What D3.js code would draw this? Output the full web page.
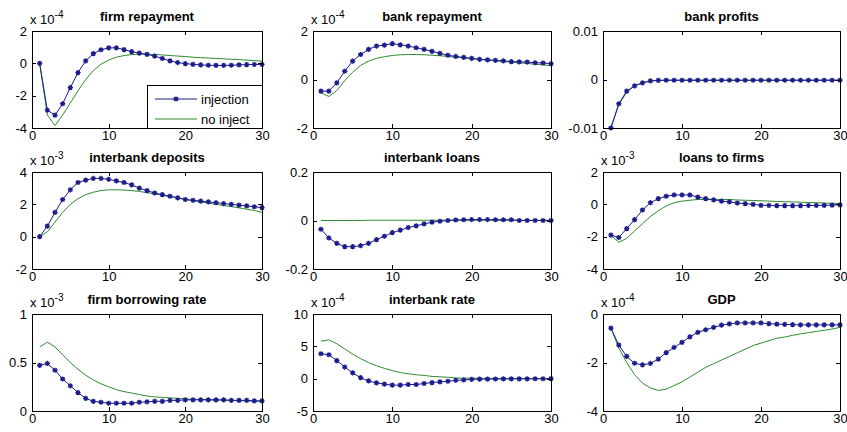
<!DOCTYPE html>
<html><head><meta charset="utf-8">
<script src="https://cdn.jsdelivr.net/npm/d3@7"></script>
<style>
body{margin:0;background:#fff}
svg text{font-family:"Liberation Sans",Arial,sans-serif;fill:#000}
</style>
</head><body>
<svg id="chart" width="847" height="432"></svg>
<script>
// ---------- data ----------
const periods = [1,2,3,4,5,6,7,8,9,10,11,12,13,14,15,16,17,18,19,20,21,22,23,24,25,26,27,28,29,30];
const xTicks = [0,10,20,30];
const titles = ["firm repayment","bank repayment","bank profits","interbank deposits","interbank loans","loans to firms","firm borrowing rate","interbank rate","GDP"];
const exponents = ["-4","-4",null,"-3",null,"-3","-3","-4","-4"];
const yDomains = [[-4,2],[-2,2],[-0.01,0.01],[-2,4],[-0.2,0.2],[-4,2],[0,1],[-5,10],[-4,0]];
const yTickValues = [[-4,-2,0,2],[-2,0,2],[-0.01,0,0.01],[-2,0,2,4],[-0.2,0,0.2],[-4,-2,0,2],[0,0.5,1],[-5,0,5,10],[-4,-2,0]];
const seriesNames = ["injection","no inject"];

const firmRepInj = [0,-2.9,-3.2,-2.5,-1.5,-0.57,0.15,0.6,0.84,0.96,0.96,0.85,0.72,0.63,0.55,0.45,0.3,0.15,0.05,-0.02,-0.06,-0.1,-0.12,-0.13,-0.13,-0.12,-0.1,-0.08,-0.07,-0.07];
const firmRepNo = [0,-3.2,-3.85,-3.2,-2.45,-1.7,-1.0,-0.45,-0.05,0.2,0.38,0.48,0.54,0.57,0.57,0.55,0.52,0.48,0.45,0.42,0.38,0.35,0.33,0.3,0.28,0.25,0.23,0.2,0.17,0.14];
const bankRepInj = [-0.48,-0.48,-0.14,0.34,0.76,1.03,1.24,1.38,1.42,1.48,1.43,1.38,1.31,1.24,1.16,1.08,1.0,0.95,0.91,0.87,0.83,0.81,0.79,0.77,0.74,0.73,0.72,0.69,0.68,0.65];
const bankRepNo = [-0.55,-0.7,-0.45,-0.05,0.3,0.58,0.76,0.87,0.94,0.99,1.02,1.03,1.03,1.02,1.0,0.98,0.95,0.92,0.89,0.86,0.83,0.8,0.77,0.74,0.72,0.69,0.66,0.63,0.6,0.57];
const bankProfInj = [-0.01,-0.005,-0.0024,-0.0013,-0.0007,-0.0003,-0.00018,-0.00015,-0.00015,-0.00015,-0.00015,-0.00015,-0.00015,-0.00015,-0.00015,-0.00015,-0.00015,-0.00015,-0.00015,-0.00015,-0.00015,-0.00015,-0.00015,-0.00015,-0.00015,-0.00015,-0.00015,-0.00015,-0.00015,-0.00015];
const bankProfNo = [-0.0099,-0.0052,-0.0026,-0.0013,-0.0007,-0.0003,-0.00018,-0.00015,-0.00015,-0.00015,-0.00015,-0.00015,-0.00015,-0.00015,-0.00015,-0.00015,-0.00015,-0.00015,-0.00015,-0.00015,-0.00015,-0.00015,-0.00015,-0.00015,-0.00015,-0.00015,-0.00015,-0.00015,-0.00015,-0.00015];
const ibDepInj = [0,0.65,1.5,2.3,2.9,3.35,3.5,3.6,3.6,3.55,3.45,3.35,3.2,3.0,2.85,2.7,2.6,2.5,2.4,2.3,2.25,2.2,2.15,2.1,2.05,2.0,1.95,1.9,1.85,1.8];
const ibDepNo = [0,0.3,0.9,1.5,2.0,2.35,2.6,2.75,2.85,2.9,2.9,2.88,2.85,2.8,2.72,2.65,2.55,2.48,2.4,2.3,2.22,2.15,2.08,2.0,1.93,1.86,1.78,1.7,1.62,1.5];
const ibLoansInj = [-0.036,-0.072,-0.094,-0.108,-0.108,-0.104,-0.094,-0.079,-0.065,-0.05,-0.04,-0.029,-0.022,-0.014,-0.007,-0.003,0,0.002,0.003,0.004,0.004,0.004,0.003,0.003,0.003,0,0,0,0,0];
const ibLoansNo = [0,0,0,0,0,0,0.001,0.001,0.001,0.001,0.001,0.001,0.001,0.001,0.001,0.001,0.001,0.001,0.001,0.001,0.001,0.001,0.001,0.001,0.001,0.001,0.001,0.001,0.001,0.001];
const loansFirmsInj = [-1.9,-2.05,-1.5,-0.95,-0.35,0.1,0.35,0.5,0.58,0.58,0.58,0.45,0.35,0.28,0.2,0.15,0.08,0.04,0,-0.06,-0.07,-0.08,-0.08,-0.08,-0.08,-0.07,-0.07,-0.06,-0.05,-0.03];
const loansFirmsNo = [-1.9,-2.35,-2.1,-1.65,-1.2,-0.75,-0.4,-0.1,0.1,0.2,0.25,0.3,0.3,0.3,0.3,0.3,0.27,0.25,0.24,0.22,0.2,0.18,0.16,0.15,0.13,0.11,0.1,0.08,0.06,0.05];
const firmBorInj = [0.47,0.49,0.42,0.33,0.26,0.19,0.13,0.1,0.09,0.08,0.08,0.08,0.08,0.09,0.095,0.1,0.1,0.11,0.11,0.115,0.115,0.115,0.115,0.115,0.115,0.11,0.11,0.11,0.105,0.105];
const firmBorNo = [0.66,0.71,0.66,0.58,0.5,0.43,0.37,0.32,0.28,0.25,0.22,0.2,0.185,0.17,0.155,0.145,0.14,0.135,0.13,0.125,0.12,0.12,0.115,0.115,0.11,0.11,0.105,0.105,0.1,0.1];
const ibRateInj = [3.85,3.7,2.8,1.8,0.9,0.15,-0.35,-0.65,-0.85,-1.0,-1.0,-0.9,-0.9,-0.75,-0.6,-0.5,-0.4,-0.25,-0.2,-0.1,-0.08,-0.06,-0.05,-0.04,-0.03,-0.02,-0.02,-0.01,-0.01,0];
const ibRateNo = [5.8,6.0,5.4,4.6,3.8,3.1,2.5,2.0,1.6,1.25,0.95,0.75,0.6,0.5,0.35,0.28,0.22,0.1,0.08,0.06,0.05,0.04,0.03,0.03,0.02,0.02,0.01,0.01,0.01,0];
const gdpInj = [-0.58,-1.28,-1.75,-2.03,-2.1,-2.04,-1.86,-1.59,-1.38,-1.17,-0.94,-0.76,-0.65,-0.55,-0.46,-0.41,-0.37,-0.37,-0.37,-0.37,-0.4,-0.42,-0.43,-0.44,-0.45,-0.45,-0.45,-0.45,-0.45,-0.45];
const gdpNo = [-0.58,-1.4,-2.0,-2.5,-2.85,-3.05,-3.15,-3.1,-2.95,-2.8,-2.6,-2.4,-2.2,-2.05,-1.9,-1.75,-1.6,-1.45,-1.3,-1.2,-1.1,-1.0,-0.95,-0.88,-0.82,-0.77,-0.72,-0.67,-0.62,-0.55];

const injectionSeries = [firmRepInj,bankRepInj,bankProfInj,ibDepInj,ibLoansInj,loansFirmsInj,firmBorInj,ibRateInj,gdpInj];
const noInjectSeries = [firmRepNo,bankRepNo,bankProfNo,ibDepNo,ibLoansNo,loansFirmsNo,firmBorNo,ibRateNo,gdpNo];

// ---------- layout / style ----------
const colX = [32, 313, 603];
const colW = [230, 238, 237];
const rowY = [31, 172, 314];
const H = 97;
const blue = "#1c1c8c", green = "#2e8b2e";
const fmt = d => String(d);

const svg = d3.select("#chart");

function asterisk(s){
  const a = s*0.72;
  return `M${-s},0L${s},0M0,${-s}L0,${s}M${-a},${-a}L${a},${a}M${-a},${a}L${a},${-a}`;
}

titles.forEach((title, i) => {
  const c = i % 3;
  const gx = colX[c], gy = rowY[Math.floor(i / 3)], W = colW[c];
  const g = svg.append("g").attr("transform", `translate(${gx},${gy})`);
  const x = d3.scaleLinear().domain([0,30]).range([0,W]);
  const y = d3.scaleLinear().domain(yDomains[i]).range([H,0]);

  const lineGen = d3.line().x((d,k)=>x(periods[k])).y(d=>y(d));
  g.append("path").datum(noInjectSeries[i]).attr("d", lineGen)
    .attr("fill","none").attr("stroke",green).attr("stroke-width",1);
  g.append("path").datum(injectionSeries[i]).attr("d", lineGen)
    .attr("fill","none").attr("stroke",blue).attr("stroke-width",1);
  g.selectAll("path.mk").data(injectionSeries[i]).enter().append("path")
    .attr("class","mk")
    .attr("transform",(d,k)=>`translate(${x(periods[k])},${y(d)})`)
    .attr("d", asterisk(2.6)).attr("stroke",blue).attr("stroke-width",1.3).attr("fill","none");

  const axL = d3.axisLeft(y).tickValues(yTickValues[i]).tickFormat(fmt).tickSizeInner(-4).tickSizeOuter(0).tickPadding(5);
  const axR = d3.axisRight(y).tickValues(yTickValues[i]).tickFormat("").tickSizeInner(-4).tickSizeOuter(0);
  const axB = d3.axisBottom(x).tickValues(xTicks).tickFormat(fmt).tickSizeInner(-4).tickSizeOuter(0).tickPadding(3);
  const axT = d3.axisTop(x).tickValues(xTicks).tickFormat("").tickSizeInner(-4).tickSizeOuter(0);
  [[axL,0,0],[axR,W,0],[axB,0,H],[axT,0,0]].forEach(([ax,tx,ty])=>{
    const a = g.append("g").attr("transform",`translate(${tx},${ty})`).call(ax);
    a.selectAll("path.domain").attr("stroke","#000").attr("shape-rendering","crispEdges");
    a.selectAll(".tick line").attr("stroke","#000").attr("shape-rendering","crispEdges");
    a.selectAll("text").style("font-size","13px").attr("fill","#000");
  });

  g.append("text").attr("x", W/2).attr("y", -10).attr("text-anchor","middle")
    .style("font-size","13px").style("font-weight","bold").text(title);

  if (exponents[i]) {
    const t = g.append("text").attr("x", -2).attr("y", -7).style("font-size","13px");
    t.append("tspan").text("x 10");
    t.append("tspan").attr("dy", -6).style("font-size","10px").text(exponents[i]);
  }

  if (i === 0) {
    const lx = 115, ly = 54, lw = W - lx, lh = H - ly;
    const lg = g.append("g").attr("transform",`translate(${lx},${ly})`);
    lg.append("rect").attr("width",lw).attr("height",lh).attr("fill","#fff").attr("stroke","#000").attr("shape-rendering","crispEdges");
    const rows = [{name:seriesNames[0], color:blue, marker:true},{name:seriesNames[1], color:green, marker:false}];
    rows.forEach((r,k)=>{
      const yy = 14 + k*20;
      lg.append("line").attr("x1",8).attr("x2",50).attr("y1",yy).attr("y2",yy).attr("stroke",r.color).attr("stroke-width",1);
      if (r.marker) lg.append("path").attr("transform",`translate(29,${yy})`).attr("d",asterisk(2.6)).attr("stroke",r.color).attr("stroke-width",1.3).attr("fill","none");
      lg.append("text").attr("x",54).attr("y",yy+4.5).style("font-size","13px").text(r.name);
    });
  }
});
</script>
</body></html>
